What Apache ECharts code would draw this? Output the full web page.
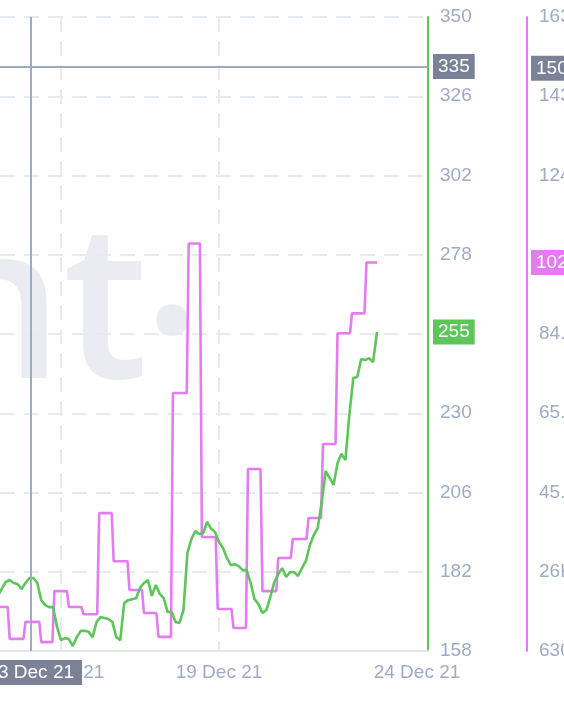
<!DOCTYPE html>
<html>
<head>
<meta charset="utf-8">
<script src="https://cdn.jsdelivr.net/npm/echarts@6/dist/echarts.min.js"></script>
<style>
html,body{margin:0;padding:0;background:#ffffff;overflow:hidden}
#chart{width:564px;height:706px}
</style>
</head>
<body>
<div id="chart"></div>
<script>
// ---------- data ----------
const seriesStart = '2021-12-12 00:00';
const priceStepHours = 3;
const priceValues = [
  174.7,176.8,178.9,179.5,178.6,178.3,176.8,178.6,180.1,180.1,
  178.6,173.4,171.9,171.3,171.3,165.3,161.3,161.9,161.6,159.5,
  162.2,164.1,164.1,163.8,162.2,166.8,168.3,168.0,167.7,166.8,
  162.2,161.3,172.5,173.4,173.7,174.0,177.1,178.6,179.5,174.7,
  178.0,175.3,174.0,169.8,169.8,166.8,166.5,170.4,187.7,191.9,
  194.3,193.4,193.7,197.1,195.0,194.0,191.0,189.2,186.2,184.0,
  184.3,183.7,182.5,182.5,178.6,173.7,172.2,169.5,170.4,174.4,
  178.9,181.3,183.1,180.4,181.9,181.9,180.7,183.1,185.3,190.1,
  193.1,195.3,203.1,212.5,210.4,208.3,214.9,217.7,215.8,229.5,
  240.7,241.0,246.4,246.1,246.7,245.5,254.6
];
const metricHours = [0,9,21,33,43,54,65,77,88,100,111,122,133,145,155,167,179,190,201,213,224,236,247,258,269,280,288];
const metricValues = [17.2,9.3,13.5,8.5,21.1,17.2,15.4,40.4,28.5,21.4,15.7,9.8,70.1,107.1,34.5,16.7,12.0,51.3,21.1,29.3,34.0,39.2,57.5,84.9,89.8,102.4,102.4];

const priceMin = 158, priceMax = 350, priceInterval = 24;
const metricMin = 6.3, metricInterval = 19.6, metricMax = 163.1;
const metricTickLabels = ['6300','26K','45.5K','65.1K','84.7K','104K','124K','143K','163K'];

const xRange = ['2021-12-12 01:40', '2021-12-25 14:44'];
const xTickDates = ['2021-12-14 00:00', '2021-12-19 00:00', '2021-12-24 00:00'];
const xTickLabels = ['14 Dec 21', '19 Dec 21', '24 Dec 21'];
const xGridDates = ['2021-12-14 00:00', '2021-12-19 00:00'];

const crosshairTime = '2021-12-13 01:00';
const crosshairTimeLabel = '13 Dec 21';
const crosshairPrice = 335;
const crosshairMetric = 150.4;

const watermarkWord = 'santiment';
const watermarkDot = '.';

// ---------- helpers ----------
const H = 3600 * 1000;
function ts(s) {
  const m = s.match(/(\d+)-(\d+)-(\d+) (\d+):(\d+)/);
  return Date.UTC(+m[1], +m[2] - 1, +m[3], +m[4], +m[5]);
}
const t0 = ts(seriesStart);
const hrs = s => (ts(s) - t0) / H;   // hours since series start
const priceData = priceValues.map((v, i) => [i * priceStepHours, v]);
// stepped metric: hold each value until ~1.5h before the next change (hourly-resolution ramp)
const metricData = [];
metricValues.forEach((v, i) => {
  metricData.push([metricHours[i], v]);
  if (i < metricValues.length - 1) metricData.push([metricHours[i + 1] - 1.5, v]);
});
const xTickH = xTickDates.map(hrs);
const lastPrice = priceValues[priceValues.length - 1];
const lastMetric = metricValues[metricValues.length - 1];
function fmtMetric(v) { return v >= 100 ? Math.round(v) + 'K' : v.toFixed(1) + 'K'; }

const GREEN = '#5dc55a';
const PINK = '#e27cf0';
const LABEL = '#9faac4';
const GRIDC = '#e8eaf2';
const CROSS = '#a0a8c2';
const BOXGREY = '#7b8298';
const WMARK = '#ebecf2';
const FONT = 'Liberation Sans';

const boxLabel = (text, bg, pos, dist) => ({
  show: true, position: pos, distance: dist, formatter: text,
  backgroundColor: bg, color: '#ffffff', fontSize: 19, fontFamily: FONT,
  padding: [3, 5, 3, 5], lineHeight: 19, opacity: 1
});
const hiddenLine = { color: 'rgba(0,0,0,0)', width: 0, type: 'solid' };

const chart = echarts.init(document.getElementById('chart'), null, { renderer: 'canvas' });
chart.setOption({
  animation: false,
  backgroundColor: '#ffffff',
  grid: { left: 0, right: 136, top: 17, bottom: 55, containLabel: false, outerBoundsMode: 'none' },
  graphic: [{
    type: 'text', z: -10, silent: true,
    style: {
      x: 148, y: 317, text: watermarkWord, align: 'right', verticalAlign: 'middle',
      fontSize: 215, fontFamily: 'Open Sans', fontWeight: 600, fill: WMARK
    }
  }, {
    type: 'text', z: -10, silent: true,
    style: {
      x: 172, y: 272, text: watermarkDot, align: 'center', verticalAlign: 'middle',
      fontSize: 215, fontFamily: 'Open Sans', fontWeight: 600, fill: WMARK
    }
  }],
  xAxis: {
    type: 'value',
    min: hrs(xRange[0]), max: hrs(xRange[1]),
    axisLine: { show: true, onZero: false, lineStyle: { color: '#e3e6ef', width: 2 } },
    axisTick: { show: false, customValues: xGridDates.map(hrs) },
    splitLine: { show: true, lineStyle: { color: GRIDC, width: 2, type: [15, 9] } },
    axisLabel: {
      customValues: xTickH,
      color: LABEL, fontSize: 19, fontFamily: FONT, margin: 12,
      formatter: function (v) {
        let i = -1;
        xTickH.forEach((h, k) => { if (Math.abs(h - v) < 0.01) i = k; });
        const s = i >= 0 ? xTickLabels[i] : '';
        return i === xTickH.length - 1 ? '{last|' + s + '}' : s;
      },
      rich: { last: { color: LABEL, fontSize: 19, fontFamily: FONT, padding: [0, 0, 0, 80] } }
    }
  },
  yAxis: [{
    type: 'value', position: 'right',
    min: priceMin, max: priceMax, interval: priceInterval,
    axisLine: { show: true, lineStyle: { color: GREEN, width: 2 } },
    axisTick: { show: false },
    splitLine: { show: true, lineStyle: { color: GRIDC, width: 2, type: [15, 9] } },
    axisLabel: { color: LABEL, fontSize: 19, fontFamily: FONT, margin: 12,
      formatter: v => (Math.abs(v - lastPrice) < 5 ? '' : String(Math.round(v))) }
  }, {
    type: 'value', position: 'right', offset: 99,
    min: metricMin, max: metricMax, interval: metricInterval,
    axisLine: { show: true, lineStyle: { color: PINK, width: 2 } },
    axisTick: { show: false },
    splitLine: { show: false },
    axisLabel: { color: LABEL, fontSize: 19, fontFamily: FONT, margin: 12,
      formatter: v => (Math.abs(v - lastMetric) < 5 ? '' :
        (metricTickLabels[Math.round((v - metricMin) / metricInterval)] || '')) }
  }],
  series: [{
    name: 'metric', type: 'line', yAxisIndex: 1,
    showSymbol: false, data: metricData,
    lineStyle: { color: PINK, width: 2.6 }, z: 3,
    markLine: {
      silent: true, symbol: 'none', animation: false,
      data: [
        { yAxis: crosshairMetric, lineStyle: hiddenLine,
          label: boxLabel(fmtMetric(crosshairMetric), BOXGREY, 'end', 103) },
        { yAxis: lastMetric, lineStyle: hiddenLine,
          label: boxLabel(fmtMetric(lastMetric), PINK, 'end', 103) }
      ]
    }
  }, {
    name: 'price', type: 'line', yAxisIndex: 0,
    showSymbol: false, data: priceData,
    lineStyle: { color: GREEN, width: 2.6 }, z: 4,
    markLine: {
      silent: true, symbol: 'none', animation: false,
      data: [
        { xAxis: hrs(crosshairTime), lineStyle: { color: CROSS, width: 2, type: 'solid' },
          label: Object.assign(boxLabel(crosshairTimeLabel, BOXGREY, 'start', 9), { padding: [3, 8, 3, 8] }) },
        { yAxis: crosshairPrice, lineStyle: { color: CROSS, width: 2, type: 'solid' },
          label: boxLabel(String(crosshairPrice), BOXGREY, 'end', 5) },
        { yAxis: lastPrice, lineStyle: hiddenLine,
          label: boxLabel(String(Math.round(lastPrice)), GREEN, 'end', 5) }
      ]
    }
  }]
});
</script>
</body>
</html>
